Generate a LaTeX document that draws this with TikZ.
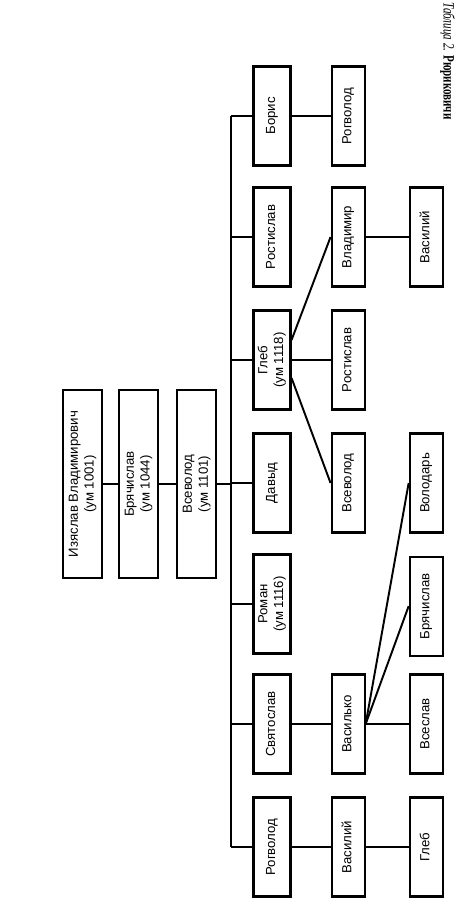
\documentclass[tikz,border=0pt]{standalone}
\usepackage{fontspec}
\setmainfont{Liberation Serif}
\newfontfamily\boxfont{Liberation Sans}
\usetikzlibrary{positioning,calc}
\newcommand{\nm}[1]{\rotatebox{90}{\begin{tabular}{@{}c@{}}#1\end{tabular}}}

\begin{document}
\begin{tikzpicture}[
	anc/.style={draw=black,line width=1.2pt,minimum width=0.78cm,minimum height=3.76cm,inner sep=0pt,font=\boxfont\fontsize{7.5}{9}\selectfont},
	kid/.style={draw=black,line width=1.2pt,minimum width=0.74cm,minimum height=1.98cm,inner sep=0pt,font=\boxfont\fontsize{7.5}{9}\selectfont},
	grand/.style={kid,minimum width=0.66cm},
	link/.style={line width=1.1pt}]
		\useasboundingbox (0,0) rectangle (9.18,-18);
		\node[rotate=-90,anchor=west,inner sep=0pt,font=\fontsize{9}{10}\selectfont] (title) at (8.95,-0.04) {\scalebox{0.7}[1]{\textit{Таблица 2.} \textbf{Рюриковичи}}};
		
		\node[anc] (izyaslav) at (1.65,-9.68) {\nm{Изяслав Владимирович\\(ум 1001)}};
		\node[anc,right=0.3cm of izyaslav] (bryachislav) {\nm{Брячислав\\(ум 1044)}};
		\node[anc,right=0.34cm of bryachislav] (vsevolod) {\nm{Всеволод\\(ум 1101)}};
		
		\node[kid] (boris) at (5.44,-2.32) {\nm{Борис}};
		\node[kid] (rostislav) at (5.44,-4.74) {\nm{Ростислав}};
		\node[kid] (gleb) at (5.44,-7.2) {\nm{Глеб\\(ум 1118)}};
		\node[kid] (davyd) at (5.44,-9.66) {\nm{Давыд}};
		\node[kid] (roman) at (5.44,-12.08) {\nm{Роман\\(ум 1116)}};
		\node[kid] (svyatoslav) at (5.44,-14.48) {\nm{Святослав}};
		\node[kid] (rogvolod) at (5.44,-16.94) {\nm{Рогволод}};
		
		\node[grand,right=0.78cm of boris] (rogvolodB) {\nm{Рогволод}};
		\node[grand,right=0.78cm of rostislav] (vladimir) {\nm{Владимир}};
		\node[grand,right=0.78cm of gleb] (rostislavB) {\nm{Ростислав}};
		\node[grand,right=0.78cm of davyd] (vsevolodB) {\nm{Всеволод}};
		\node[grand,right=0.78cm of svyatoslav] (vasilko) {\nm{Василько}};
		\node[grand,right=0.78cm of rogvolod] (vasiliyB) {\nm{Василий}};
		
		\node[grand,right=0.86cm of vladimir] (vasiliyC) {\nm{Василий}};
		\node[grand,right=0.86cm of vsevolodB] (volodar) {\nm{Володарь}};
		\node[grand,below=0.44cm of volodar] (bryachislavC) {\nm{Брячислав}};
		\node[grand,right=0.86cm of vasilko] (vseslav) {\nm{Всеслав}};
		\node[grand,right=0.86cm of vasiliyB] (glebC) {\nm{Глеб}};
		
		\coordinate (bustop) at (4.62,-2.32);
		\coordinate (busbot) at (4.62,-16.94);
		
		\draw[link] (izyaslav)--(bryachislav);
		\draw[link] (bryachislav)--(vsevolod);
		\draw[link] (vsevolod.east)--(bustop |- vsevolod.east);
		\draw[link] (bustop)--(busbot);
		\foreach \c in {boris,rostislav,gleb,davyd,roman,svyatoslav,rogvolod}
			\draw[link] (bustop |- \c.west)--(\c.west);
		
		\draw[link] (boris)--(rogvolodB);
		\draw[link] (gleb)--(rostislavB);
		\draw[link] ([yshift=0.4cm]gleb.east)--(vladimir.west);
		\draw[link] ([yshift=-0.36cm]gleb.east)--(vsevolodB.west);
		\draw[link] (svyatoslav)--(vasilko);
		\draw[link] (rogvolod)--(vasiliyB);
		
		\draw[link] (vladimir)--(vasiliyC);
		\draw[link] (vasilko)--(vseslav);
		\draw[link] (vasilko.east)--(bryachislavC.west);
		\draw[link] (vasilko.east)--(volodar.west);
		\draw[link] (vasiliyB)--(glebC);
	\end{tikzpicture}
\end{document}
